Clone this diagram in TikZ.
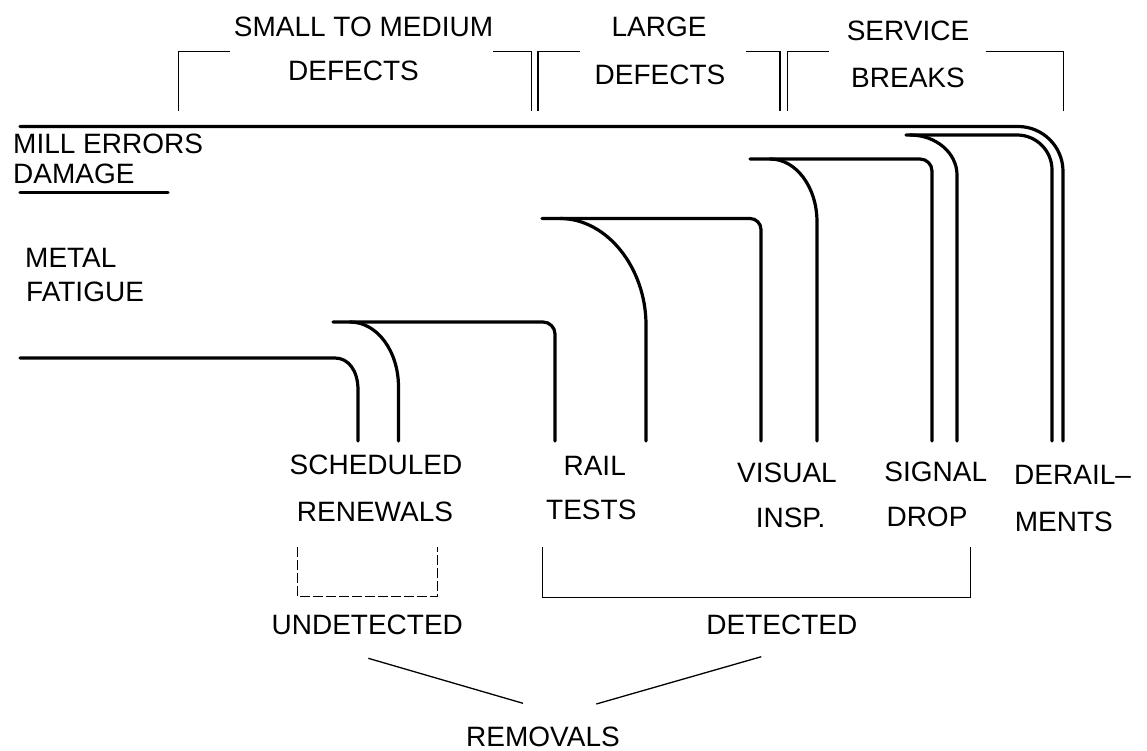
\documentclass[tikz,border=0pt]{standalone}
\usepackage{fontspec}
\setmainfont{Liberation Sans}
\begin{document}
\begin{tikzpicture}[x=1pt,y=-1pt,
  rail/.style={line width=3.2pt,line cap=round,line join=round},
  brk/.style={line width=1.3pt},
  dbrk/.style={line width=1.3pt,dash pattern=on 10pt off 3pt},
  lbl/.style={inner sep=0pt,font=\fontsize{28}{28}\selectfont}]
\useasboundingbox (0,0) rectangle (1147,751);

% ---- header labels
\node[lbl] (sm)  at (363.5,27)  {SMALL TO MEDIUM};
\node[lbl] (d1)  at (353.5,70.5){DEFECTS};
\node[lbl] (lg)  at (659,27)    {LARGE};
\node[lbl] (d2)  at (660,75)    {DEFECTS};
\node[lbl] (sv)  at (908,30.5)  {SERVICE};
\node[lbl] (br)  at (908,77.5)  {BREAKS};

% ---- header brackets
\draw[brk] (178.3,111) -- (178.3,51.7) -- (230,51.7);
\draw[brk] (493,51.7) -- (531.3,51.7) -- (531.3,111);
\draw[brk] (538,111) -- (538,51.7) -- (580,51.7);
\draw[brk] (746,51.7) -- (780,51.7) -- (780,111);
\draw[brk] (787.3,111) -- (787.3,51.7) -- (829,51.7);
\draw[brk] (985.7,51.7) -- (1063.3,51.7) -- (1063.3,111);

% ---- left labels
\node[lbl,anchor=west] (mill) at (13,144)   {MILL ERRORS};
\node[lbl,anchor=west] (dmg)  at (13,173.5) {DAMAGE};
\node[lbl,anchor=west] (met)  at (25,258)   {METAL};
\node[lbl,anchor=west] (fat)  at (26,292)   {FATIGUE};
\draw[rail] (20,192.7) -- (168,192.7);

% ---- flow lines
% mill errors -> derailments (outer)
\draw[rail,rounded corners=45pt] (20,126.5) -- (1063,126.5) -- (1063,441);
% derailments (inner) + signal drop (right)
\draw[rail,rounded corners=35pt] (906,135) -- (1052,135) -- (1052,441);
\draw[rail] (910,135) .. controls (936,135) and (957,153) .. (957,175) -- (957,441);
% signal drop (left) + visual insp. (right)
\draw[rail,rounded corners=12pt] (750,159) -- (932,159) -- (932,441);
\draw[rail] (770,159) .. controls (796,159) and (817,187) .. (817,222) -- (817,441);
% visual insp. (left) + rail tests (right)
\draw[rail,rounded corners=11pt] (542,218.5) -- (761,218.5) -- (761,441);
\draw[rail] (560,218.5) .. controls (607,218.5) and (646,268) .. (646,325) -- (646,441);
% rail tests (left) + scheduled (right)
\draw[rail,rounded corners=12pt] (333,322) -- (555,322) -- (555,441);
\draw[rail] (350,322) .. controls (377,322) and (398.5,351) .. (398.5,387) -- (398.5,441);
% metal fatigue -> scheduled (left)
\draw[rail] (20,358) -- (335,358) .. controls (348,358) and (358,370) .. (358,390) -- (358,441);

% ---- bottom labels
\node[lbl] (sch) at (376,465)   {SCHEDULED};
\node[lbl] (ren) at (375,512)   {RENEWALS};
\node[lbl] (rl)  at (594.7,466) {RAIL};
\node[lbl] (ts)  at (591.3,510) {TESTS};
\node[lbl] (vis) at (787,473)   {VISUAL};
\node[lbl] (ins) at (790.5,518) {INSP.};
\node[lbl] (sig) at (935.7,472) {SIGNAL};
\node[lbl] (drp) at (927,517)   {DROP};
\node[lbl,anchor=west] (der) at (1014,475) {DERAIL–};
\node[lbl,anchor=west] (mnt) at (1014.7,522) {MENTS};

% ---- grouping brackets
\draw[dbrk] (297.7,547) -- (297.7,596.7) -- (437.3,596.7) -- (437.3,547);
\draw[brk] (542.3,547.3) -- (542.3,597.7) -- (970.7,597.7) -- (970.7,547.3);

\node[lbl] (und) at (367.3,625) {UNDETECTED};
\node[lbl] (det) at (781.8,625) {DETECTED};
\node[lbl] (rem) at (543,737)   {REMOVALS};

\coordinate (ua) at (368.3,658.3);
\coordinate (ub) at (523,703.3);
\coordinate (da) at (596.3,704);
\coordinate (db) at (761.3,656.7);
\draw[brk] (ua) -- (ub);
\draw[brk] (da) -- (db);
\end{tikzpicture}
\end{document}
